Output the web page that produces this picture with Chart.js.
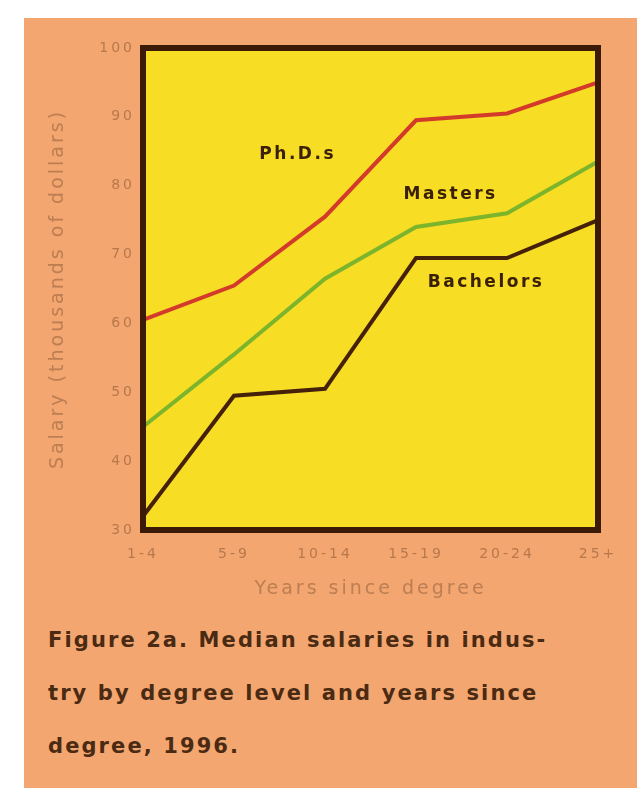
<!DOCTYPE html>
<html lang="en">
<head>
  <meta charset="UTF-8" />
  <title>Median salaries in industry</title>
  <script src="https://cdn.jsdelivr.net/npm/chart.js"></script>
  <style>
    body {
      margin: 0;
      background: #fff;
      width: 641px;
      height: 788px;
      position: relative;
      overflow: hidden;
    }
    #panel {
      position: absolute;
      left: 24px;
      top: 18px;
      width: 613px;
      height: 770px;
      background: #f3a66f;
    }
    #chartBox {
      position: absolute;
      left: 0;
      top: 0;
      width: 641px;
      height: 610px;
    }
    #caption {
      position: absolute;
      left: 48px;
      top: 614px;
      width: 590px;
      font-family: "DejaVu Sans", sans-serif;
      font-weight: bold;
      font-size: 21px;
      line-height: 53px;
      letter-spacing: 2.1px;
      white-space: nowrap;
      color: #4a2a12;
    }
  </style>
</head>
<body>
  <div id="panel"></div>
  <div id="chartBox"><canvas id="salaryChart" width="641" height="610"></canvas></div>
  <div id="caption">Figure 2a. Median salaries in indus-<br>try by degree level and years since<br>degree, 1996.</div>

  <script>
    const years = ['1-4', '5-9', '10-14', '15-19', '20-24', '25+'];
    const phds = [60.5, 65.5, 75.5, 89.5, 90.5, 95];
    const masters = [45, 55.5, 66.5, 74, 76, 83.5];
    const bachelors = [32, 49.5, 50.5, 69.5, 69.5, 75];
    const yTicks = [30, 40, 50, 60, 70, 80, 90, 100];

    // text labels inside the plot, in data units (category index, salary)
    const seriesNames = ['Ph.D.s', 'Masters', 'Bachelors'];
    const nameX = [1.7, 3.38, 3.77];
    const nameY = [84.5, 78.7, 65.9];

    const plotDecor = {
      id: 'plotDecor',
      beforeLayout(chart) {
        chart.ctx.letterSpacing = '3px';
      },
      beforeDraw(chart) {
        // the printed axis text is widely spaced
        chart.ctx.letterSpacing = '3px';
      },
      beforeDatasetsDraw(chart) {
        const { ctx, chartArea: a } = chart;
        ctx.save();
        ctx.fillStyle = '#f7dd24';
        ctx.fillRect(a.left, a.top, a.right - a.left, a.bottom - a.top);
        ctx.restore();
      },
      afterDatasetsDraw(chart) {
        const { ctx, chartArea: a, scales } = chart;
        ctx.save();
        ctx.strokeStyle = '#3b1a08';
        ctx.lineWidth = 6;
        ctx.strokeRect(a.left, a.top, a.right - a.left, a.bottom - a.top);

        ctx.fillStyle = '#3a2008';
        ctx.font = 'bold 17px "DejaVu Sans", sans-serif';
        ctx.letterSpacing = '2.5px';
        ctx.textAlign = 'center';
        ctx.textBaseline = 'middle';
        seriesNames.forEach((name, i) => {
          const x = scales.x.getPixelForValue(nameX[i]);
          const y = scales.y.getPixelForValue(nameY[i]);
          ctx.fillText(name, x, y);
        });
        ctx.restore();
      }
    };

    const ctx = document.getElementById('salaryChart').getContext('2d');
    new Chart(ctx, {
      type: 'line',
      data: {
        labels: years,
        datasets: [
          { label: 'Ph.D.s', data: phds, borderColor: '#d43a2a', borderWidth: 4, pointRadius: 0, tension: 0 },
          { label: 'Masters', data: masters, borderColor: '#7cb42c', borderWidth: 4, pointRadius: 0, tension: 0 },
          { label: 'Bachelors', data: bachelors, borderColor: '#45210a', borderWidth: 4, pointRadius: 0, tension: 0 }
        ]
      },
      options: {
        responsive: false,
        animation: false,
        layout: { padding: { left: 40, top: 48, right: 43, bottom: 0 } },
        scales: {
          x: {
            type: 'category',
            offset: false,
            grid: { display: false, drawTicks: false },
            border: { display: false },
            ticks: {
              color: '#b8784c',
              font: { family: 'DejaVu Sans', size: 14 },
              padding: 16,
              maxRotation: 0,
              autoSkip: false
            },
            title: {
              display: true,
              text: 'Years since degree',
              color: '#bc7e52',
              font: { family: 'DejaVu Sans', size: 19 },
              padding: { top: 0, bottom: 10 }
            },
            afterFit(scale) { scale.height = 80; }
          },
          y: {
            min: 30,
            max: 100,
            afterBuildTicks(scale) { scale.ticks = yTicks.map(v => ({ value: v })); },
            grid: { display: false, drawTicks: false },
            border: { display: false },
            ticks: {
              color: '#b8784c',
              font: { family: 'DejaVu Sans', size: 14 },
              padding: 8
            },
            title: {
              display: true,
              text: 'Salary (thousands of dollars)',
              color: '#bc7e52',
              font: { family: 'DejaVu Sans', size: 19 },
              padding: 7
            },
            afterFit(scale) { scale.width = 103; }
          }
        },
        plugins: {
          legend: { display: false },
          tooltip: { enabled: false }
        }
      },
      plugins: [plotDecor]
    });
  </script>
</body>
</html>
